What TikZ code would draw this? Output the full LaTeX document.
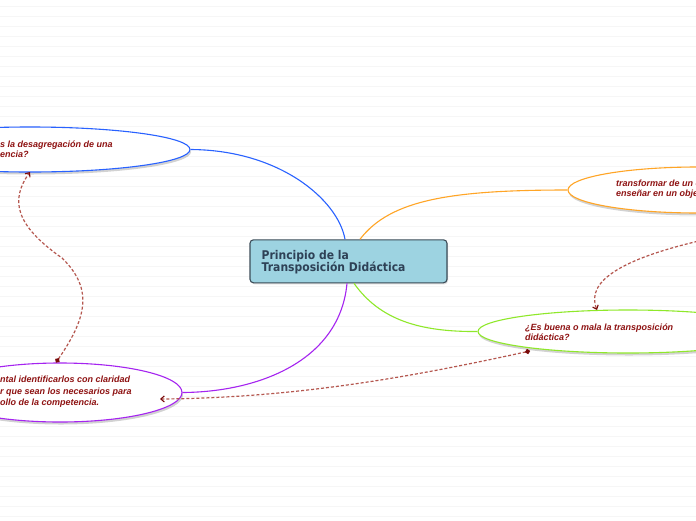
\documentclass[tikz,border=0pt]{standalone}
\usepackage{fontspec}
\setmainfont{Liberation Sans}
\newfontfamily\ctrfont[FakeStretch=0.9]{DejaVu Sans}
\usetikzlibrary{shapes.geometric,shadows,arrows.meta,calc}
\definecolor{bgline}{HTML}{F6F6F6}
\definecolor{blueC}{HTML}{2962FF}
\definecolor{purpleC}{HTML}{A524F0}
\definecolor{orangeC}{HTML}{FFA526}
\definecolor{greenC}{HTML}{8FE82A}
\definecolor{txtC}{HTML}{8E1212}
\definecolor{dashC}{HTML}{B5574F}
\definecolor{dotC}{HTML}{7A0A0A}
\definecolor{boxF}{HTML}{9DD3E1}
\definecolor{boxD}{HTML}{3C4C58}
\definecolor{boxT}{HTML}{2E4156}
\begin{document}
\begin{tikzpicture}[x=1pt,y=-1pt,
  topic/.style={ellipse, draw, line width=1.1pt, fill=white, inner sep=0pt,
    drop shadow={shadow xshift=1pt,shadow yshift=-2.5pt,opacity=0.35,fill=gray}},
  topictext/.style={anchor=west, inner sep=0pt, align=left, text=txtC,
    font=\fontsize{9}{10}\selectfont\bfseries\itshape},
  central/.style={rectangle, rounded corners=3.5pt, draw=boxD, fill=boxF, line width=1.1pt,
    minimum width=197pt, minimum height=43pt, inner sep=0pt,
    drop shadow={shadow xshift=1pt,shadow yshift=-1.5pt,opacity=0.25,fill=gray}},
  ctrtext/.style={anchor=west, inner sep=0pt, align=left, text=boxT,
    font=\fontsize{12}{12.6}\selectfont\ctrfont\bfseries},
  branch/.style={line width=1.1pt},
  linkline/.style={line width=1.2pt, draw=dashC, dash pattern=on 3pt off 2pt,
    {Circle[length=5pt,fill=dotC,color=dotC]}-{Straight Barb[length=3.5pt,width=6pt,color=dotC,line width=1.1pt]}}
]
\useasboundingbox (0,0) rectangle (696,520);
\fill[white] (0,0) rectangle (696,520);
\foreach \k in {0,...,51}{
  \draw[bgline, line width=0.8pt] (0,6+10*\k) -- (696,6+10*\k);
}

% topic ellipses
\node[topic, draw=blueC, minimum width=320pt, minimum height=45pt] (blue) at (30,149.5) {};
\node[topic, draw=purpleC, minimum width=244pt, minimum height=59pt] (purple) at (60,392.5) {};
\node[topic, draw=orangeC, minimum width=260pt, minimum height=46pt] (orange) at (698,190) {};
\node[topic, draw=greenC, minimum width=300pt, minimum height=43pt] (green) at (628,331.5) {};

\node[topictext] (bluetext) at (0,149) {s la desagregación de una\\encia?};
\node[topictext, font=\fontsize{9}{11.6}\selectfont\bfseries\itshape] (purpletext) at (0,392) {ntal identificarlos con claridad\\r que sean los necesarios para\\ollo de la competencia.};
\node[topictext] (orangetext) at (616,189.5) {transformar de un c\\enseñar en un obje};
\node[topictext] (greentext) at (525,332) {¿Es buena o mala la transposición\\didáctica?};

% central node
\node[central] (ctr) at (348.5,261.3) {};
\node[ctrtext] (ctrlabel) at (261.5,262.3) {Principio de la\\Transposición Didáctica};

% branches
\draw[branch, blueC] (blue.east) .. controls (280,150) and (338,200) .. ([xshift=-3.5pt]ctr.north);
\draw[branch, orangeC] ([xshift=11.5pt]ctr.north) .. controls (390,200) and (450,190) .. (orange.west);
\draw[branch, purpleC] ([xshift=-1.5pt]ctr.south) .. controls (340,360) and (260,392) .. (purple.east);
\draw[branch, greenC] ([xshift=5.5pt]ctr.south) .. controls (380,320) and (420,332) .. (green.west);

% dashed links
\coordinate (p1) at (56,362.5);
\coordinate (b1) at (30,172);
\coordinate (g1) at (530,351);
\coordinate (p2) at (160,399);
\coordinate (o1) at (712,238);
\coordinate (g2) at (597,310);
\draw[linkline] (p1) .. controls (85,320) and (95,290) .. (62,258) .. controls (15,225) and (10,200) .. (b1);
\draw[linkline] (g1) .. controls (420,375) and (300,398) .. (p2);
\draw[linkline, {Circle[length=0.1pt]}-{Straight Barb[length=3.5pt,width=6pt,color=dotC,line width=1.1pt]}] (o1) .. controls (625,257) and (585,280) .. (g2);
\end{tikzpicture}
\end{document}
